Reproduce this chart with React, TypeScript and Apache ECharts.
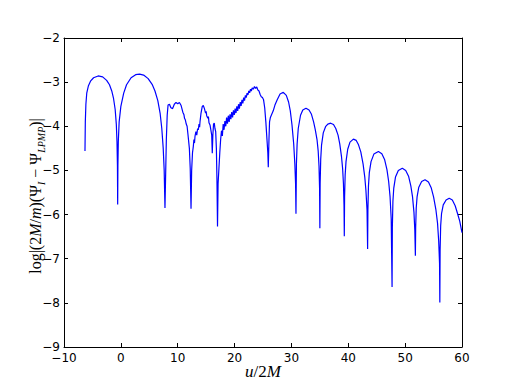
import React, { useEffect, useRef } from "react";
import * as echarts from "echarts";

const xTicks = [-10, 0, 10, 20, 30, 40, 50, 60];
const yTicks = [-9, -8, -7, -6, -5, -4, -3, -2];

// Early arches
const arch1: [number, number][] = [
  [-6.31, -4.56], [-6.25, -3.9], [-6.15, -3.5], [-6.0, -3.25], [-5.7, -3.08], [-5.3, -2.97], [-4.8, -2.9],
  [-4.0, -2.86], [-3.2, -2.88], [-2.5, -2.96], [-2.0, -3.06], [-1.6, -3.2], [-1.3, -3.36], [-1.0, -3.62],
  [-0.8, -3.95], [-0.68, -4.35], [-0.6, -4.9], [-0.56, -5.77],
];
const arch2: [number, number][] = [
  [-0.52, -4.9], [-0.45, -4.35], [-0.3, -3.9], [0, -3.55], [0.5, -3.25], [1.0, -3.06], [1.8, -2.9],
  [2.6, -2.83], [3.3, -2.82], [4.0, -2.84], [4.8, -2.92], [5.5, -3.05], [6.0, -3.2], [6.5, -3.42],
  [6.9, -3.7], [7.2, -4.05], [7.45, -4.5], [7.62, -5.0], [7.76, -5.85],
];
// Noisy middle section
const middle: [number, number][] = [
  [8.0, -4.3], [8.15, -3.75], [8.3, -3.52], [8.55, -3.5], [8.8, -3.58], [9.1, -3.6], [9.4, -3.5],
  [9.7, -3.46], [10.0, -3.49], [10.3, -3.46], [10.6, -3.53], [10.9, -3.68], [11.1, -3.74], [11.2, -3.82],
  [11.35, -3.86], [11.5, -3.95], [11.65, -4.0], [11.8, -4.18], [12.05, -4.5], [12.2, -4.95], [12.34, -5.87],
  [12.45, -5.0], [12.6, -4.6], [12.74, -4.46], [12.85, -4.3], [12.95, -4.38], [13.04, -4.23], [13.2, -4.12],
  [13.35, -4.2], [13.5, -4.05], [13.62, -4.08], [13.75, -3.95], [13.85, -4.02], [13.92, -3.9], [14.1, -3.7],
  [14.32, -3.55], [14.5, -3.53], [14.7, -3.6], [14.9, -3.7], [15.0, -3.66], [15.1, -3.76], [15.3, -3.82],
  [15.4, -3.78], [15.5, -3.92], [15.68, -3.97], [15.85, -4.1], [15.98, -4.2], [16.08, -4.61], [16.18, -4.2],
  [16.3, -3.95], [16.43, -3.93], [16.55, -4.05], [16.68, -4.12], [16.8, -4.5], [16.9, -5.2], [17.0, -6.27],
  [17.1, -5.3], [17.25, -4.95], [17.4, -4.6], [17.55, -4.3], [17.7, -4.1], [17.85, -4.22], [18.0, -3.95],
  [18.15, -4.08], [18.3, -3.88], [18.45, -4.0], [18.6, -3.8], [18.75, -3.94], [18.9, -3.76], [19.05, -3.9],
  [19.2, -3.73], [19.35, -3.84], [19.5, -3.68], [19.65, -3.8], [19.8, -3.64], [19.95, -3.74], [20.1, -3.6],
  [20.25, -3.7], [20.4, -3.55], [20.55, -3.65], [20.7, -3.5], [20.85, -3.6], [21.0, -3.45], [21.15, -3.54],
  [21.3, -3.4], [21.45, -3.48], [21.6, -3.35], [21.75, -3.42], [21.9, -3.3], [22.05, -3.35], [22.2, -3.25],
  [22.35, -3.29], [22.5, -3.2], [22.65, -3.24], [22.8, -3.16], [22.95, -3.2], [23.1, -3.13], [23.3, -3.16],
  [23.5, -3.1], [23.7, -3.14], [23.9, -3.11], [24.1, -3.18], [24.3, -3.2], [24.5, -3.28], [24.7, -3.33],
  [24.9, -3.35], [25.1, -3.4], [25.3, -3.58], [25.5, -3.9], [25.7, -4.3], [25.85, -4.6], [25.93, -4.93],
  [26.05, -4.3], [26.15, -3.9], [26.3, -3.8], [26.5, -3.74], [26.8, -3.65], [27.1, -3.52], [27.5, -3.4],
  [28.0, -3.27], [28.57, -3.23], [29.1, -3.3], [29.5, -3.45], [29.8, -3.65], [30.1, -3.97], [30.4, -4.4],
  [30.6, -4.85], [30.73, -5.3], [30.8, -5.98],
];
// Late ringdown arches
const tail: [number, number][] = [
  [30.88, -4.85], [31.0, -4.4], [31.2, -4.05], [31.6, -3.75], [32.0, -3.63], [32.56, -3.59], [33.1, -3.63],
  [33.5, -3.72], [33.9, -3.9], [34.2, -4.08], [34.5, -4.3], [34.7, -4.55], [34.85, -4.9], [34.95, -5.4], [35.0, -6.31],
  [35.05, -5.3], [35.15, -4.75], [35.3, -4.42], [35.6, -4.15], [36.0, -4.01], [36.4, -3.95], [36.9, -3.93],
  [37.4, -3.96], [37.8, -4.05], [38.2, -4.2], [38.5, -4.4], [38.8, -4.68], [39.0, -4.95], [39.15, -5.3],
  [39.25, -5.8], [39.3, -6.49],
  [39.35, -5.6], [39.45, -5.1], [39.6, -4.8], [39.9, -4.52], [40.3, -4.36], [40.9, -4.29], [41.4, -4.32],
  [41.8, -4.42], [42.2, -4.58], [42.6, -4.85], [42.9, -5.15], [43.1, -5.45], [43.3, -5.9], [43.4, -6.78],
  [43.45, -5.9], [43.55, -5.35], [43.7, -5.05], [44.0, -4.8], [44.5, -4.63], [45.3, -4.57], [45.9, -4.62],
  [46.4, -4.76], [46.8, -4.98], [47.1, -5.25], [47.35, -5.6], [47.55, -6.1], [47.7, -7.64],
  [47.75, -6.3], [47.85, -5.7], [48.0, -5.4], [48.3, -5.15], [48.8, -5.0], [49.5, -4.95], [50.1, -5.0],
  [50.6, -5.13], [51.0, -5.35], [51.3, -5.6], [51.55, -5.95], [51.7, -6.35], [51.8, -6.93],
  [51.85, -6.3], [51.95, -5.85], [52.1, -5.6], [52.4, -5.38], [52.9, -5.25], [53.5, -5.21], [54.1, -5.26],
  [54.6, -5.4], [55.0, -5.6], [55.4, -5.88], [55.7, -6.2], [55.9, -6.6], [56.05, -7.1], [56.1, -7.99],
  [56.15, -6.8], [56.25, -6.25], [56.4, -5.98], [56.7, -5.78], [57.2, -5.67], [57.75, -5.63], [58.3, -5.67],
  [58.8, -5.8], [59.2, -5.97], [59.6, -6.15], [60.0, -6.41],
];

const fmt = (v: number) => (v < 0 ? "\u2212" + Math.abs(v) : String(v));

export default function App() {
  const ref = useRef<HTMLDivElement>(null);
  useEffect(() => {
    if (!ref.current) return;
    const chart = echarts.init(ref.current, undefined, { renderer: "svg" });
    const data = [...arch1, ...arch2, ...middle, ...tail];
    const axisCommon = {
      type: "value" as const,
      axisLine: { show: true, onZero: false, lineStyle: { color: "#000", width: 1 } },
      axisTick: { show: true, inside: true, length: 4, lineStyle: { color: "#000", width: 1 } },
      splitLine: { show: false },
    };
    const labelCommon = { color: "#000", fontSize: 12, fontFamily: "DejaVu Sans", formatter: fmt };
    chart.setOption({
      animation: false,
      backgroundColor: "#fff",
      grid: { left: 64, right: 50, top: 38, bottom: 40 },
      xAxis: [
        { ...axisCommon, position: "bottom", min: xTicks[0], max: xTicks[xTicks.length - 1], interval: 10,
          axisLabel: { ...labelCommon, margin: 5 } },
        { ...axisCommon, position: "top", min: xTicks[0], max: xTicks[xTicks.length - 1], interval: 10,
          axisLabel: { show: false } },
      ],
      yAxis: [
        { ...axisCommon, position: "left", min: yTicks[0], max: yTicks[yTicks.length - 1], interval: 1,
          axisLabel: { ...labelCommon, margin: 4 } },
        { ...axisCommon, position: "right", min: yTicks[0], max: yTicks[yTicks.length - 1], interval: 1,
          axisLabel: { show: false } },
      ],
      series: [
        {
          type: "line",
          data,
          xAxisIndex: 0,
          yAxisIndex: 0,
          showSymbol: false,
          symbol: "none",
          lineStyle: { color: "#0000ff", width: 1.2 },
        },
      ],
      graphic: [
        {
          type: "text",
          x: 263,
          y: 371,
          style: {
            text: "{i|u}{n|/2}{i|M}",
            align: "center",
            verticalAlign: "middle",
            rich: {
              i: { fontFamily: "Liberation Serif", fontStyle: "italic", fontSize: 17, fill: "#000" },
              n: { fontFamily: "Liberation Serif", fontSize: 17, fill: "#000" },
            },
          },
        },
        {
          type: "text",
          x: 35,
          y: 196,
          rotation: Math.PI / 2,
          style: {
            text: "{n|log|(2}{i|M}{n|/}{i|m}{n|)(\u03A8}{s|I}{n| \u2212 \u03A8}{s|LPMP}{n|)|}",
            align: "center",
            verticalAlign: "middle",
            rich: {
              n: { fontFamily: "Liberation Serif", fontSize: 16, fill: "#000", lineHeight: 22, verticalAlign: "middle" },
              i: { fontFamily: "Liberation Serif", fontStyle: "italic", fontSize: 16, fill: "#000", lineHeight: 22, verticalAlign: "middle" },
              s: { fontFamily: "Liberation Serif", fontStyle: "italic", fontSize: 10, fill: "#000", lineHeight: 22, verticalAlign: "bottom" },
            },
          },
        },
      ],
    });
    return () => chart.dispose();
  }, []);
  return <div ref={ref} style={{ width: 512, height: 387, position: "absolute", left: 0, top: 0 }} />;
}
